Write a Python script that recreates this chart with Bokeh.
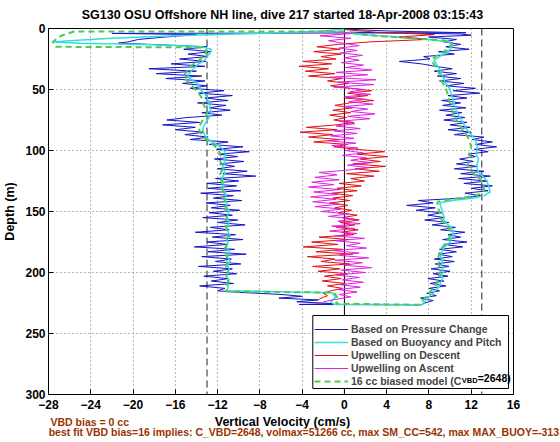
import math
from bokeh.plotting import figure
from bokeh.layouts import column
from bokeh.core.properties import value
from bokeh.models import (Range1d, FixedTicker, LinearAxis, Legend, LegendItem, ColumnDataSource)
from bokeh.embed import file_html
from bokeh.resources import INLINE

# ---------------- data (depth m, vertical velocity cm/s) ----------------
x_ticks = [-28, -24, -20, -16, -12, -8, -4, 0, 4, 8, 12, 16]
x_tick_labels = ["\u221228", "\u221224", "\u221220", "\u221216", "\u221212", "\u22128",
                 "\u22124", "0", "4", "8", "12", "16"]
y_ticks = [0, 50, 100, 150, 200, 250, 300]
speed_limits = [-13, 13]
zero_line = [0]

# Based on Pressure Change (blue) - descent then ascent
blue_desc = [(0.5, 0.0), (2, 4.0), (3.5, 11.5), (4, -22.0), (5, -14.0), (7, -17.0), (9, -19.5),
             (11, -20.5), (12, -21.4), (13.5, -17.0), (15, -13.0), (17, -15.2), (19, -12.6),
             (21, -14.8), (23, -12.9), (25, -15.6), (27, -13.1), (29, -16.4), (31, -13.2),
             (33, -18.5), (35, -14.0), (37, -17.8), (39, -13.5), (41, -16.9), (43, -13.2),
             (45, -15.3), (47, -13.0), (49, -14.6), (51, -11.4), (53, -13.8), (55, -10.6),
             (57, -13.2), (59, -11.0), (61, -13.9), (63, -11.2), (65, -12.8), (67, -10.8),
             (69, -13.5), (71, -11.6), (73, -14.9), (75, -16.8), (77, -13.7), (79, -17.2),
             (81, -14.1), (83, -16.0), (85, -13.3), (87, -15.1), (89, -12.9), (91, -14.6),
             (93, -11.0), (95, -12.8), (97, -9.6), (99, -12.1), (101, -9.0), (103, -11.9),
             (105, -10.1), (107, -12.3), (109, -9.5), (111, -11.8), (113, -10.4), (115, -12.0),
             (117, -9.2), (119, -11.5), (121, -8.4), (123, -12.2), (125, -10.0), (127, -13.0),
             (129, -10.2), (131, -12.9), (133, -9.8), (135, -13.6), (137, -10.5), (139, -12.4),
             (141, -9.7), (143, -13.1), (145, -10.8), (147, -12.6), (149, -9.9), (151, -12.8),
             (153, -10.6), (155, -13.4), (157, -10.1), (159, -12.0), (161, -9.4), (163, -12.7),
             (165, -10.9), (167, -14.1), (169, -10.3), (171, -12.5), (173, -9.6), (175, -13.0),
             (177, -11.1), (179, -14.2), (181, -10.4), (183, -12.9), (185, -9.3), (187, -13.5),
             (189, -10.7), (191, -12.2), (193, -9.8), (195, -13.8), (197, -10.6), (199, -12.4),
             (201, -10.2), (203, -13.3), (205, -11.0), (207, -12.6), (209, -10.5), (211, -13.7),
             (213, -11.3), (215, -12.0), (216, -10.5), (218, -6.0), (219.5, -4.0), (221, -6.2),
             (222.5, -2.5), (224, -4.5), (225.5, -1.0), (226.2, -4.3)]
blue_asc = [(226.5, 7.3), (225, 7.6), (223, 8.4), (221, 7.2), (219, 8.7), (217, 7.8), (215, 9.0),
            (213, 8.0), (211, 9.6), (209, 8.1), (207, 9.4), (205, 7.9), (203, 9.8), (201, 8.4),
            (199, 10.0), (197, 8.2), (195, 9.9), (193, 8.6), (191, 10.4), (189, 8.5), (187, 10.2),
            (185, 8.9), (183, 10.6), (181, 9.0), (179, 11.2), (177, 9.4), (175, 11.6), (173, 9.3),
            (171, 11.0), (169, 9.8), (167, 11.4), (165, 9.1), (163, 10.5), (161, 8.3), (159, 9.9),
            (157, 7.6), (155, 9.5), (153, 7.9), (151, 9.2), (149, 6.8), (147, 8.6), (145, 5.9),
            (143, 8.4), (141, 7.0), (139, 11.2), (137, 12.9), (135, 11.4), (133, 13.6), (131, 12.0),
            (129, 14.0), (127, 11.3), (125, 13.5), (123, 10.8), (121, 13.8), (119, 11.0), (117, 13.2),
            (115, 10.4), (113, 12.6), (111, 10.6), (109, 12.2), (107, 10.9), (105, 12.4), (103, 11.7),
            (101, 13.6), (99, 12.3), (97, 14.4), (95, 12.4), (93, 14.0), (91, 12.1), (89, 13.2),
            (87, 10.4), (85, 12.0), (83, 9.8), (81, 11.9), (79, 10.0), (77, 11.6), (75, 9.4),
            (73, 11.4), (71, 9.6), (69, 11.1), (67, 9.0), (65, 11.5), (63, 9.3), (61, 11.0),
            (59, 9.2), (57, 11.6), (55, 9.8), (53, 12.8), (51, 10.3), (49, 12.4), (47, 9.6),
            (45, 11.3), (43, 9.0), (41, 11.0), (39, 8.8), (37, 10.6), (35, 8.5), (33, 10.2),
            (31, 8.6), (29, 7.3), (27, 5.2), (25, 8.1), (23, 7.5), (21, 10.4), (19, 8.9), (17, 11.8),
            (15, 9.6), (13, 11.0), (11, 9.4), (9, 10.6), (7, 8.0), (5.5, 12.0), (4.5, 11.0), (3, 0.5)]

# Based on Buoyancy and Pitch (cyan)
cyan_desc = [(0.5, 0.0), (2, -2.0), (4, -8.0), (6, -16.0), (8, -22.0), (10, -26.0), (11, -27.5),
             (12, -25.0), (13, -20.0), (14, -16.0), (15, -13.5), (17, -12.6), (20, -12.7),
             (23, -13.0), (26, -13.2), (29, -13.8), (32, -14.2), (35, -14.5), (38, -14.8),
             (41, -14.6), (44, -14.1), (47, -13.7), (50, -13.6), (53, -13.3), (56, -13.0),
             (59, -12.9), (62, -12.8), (65, -12.7), (68, -12.6), (71, -12.6), (74, -12.9),
             (77, -13.1), (80, -13.3), (83, -13.4), (86, -13.3), (89, -13.1), (92, -12.7),
             (95, -12.1), (98, -11.6), (101, -11.3), (104, -11.2), (107, -11.4), (110, -11.3),
             (113, -11.5), (116, -11.4), (119, -11.3), (122, -11.6), (125, -11.5), (128, -11.4),
             (131, -11.6), (134, -11.3), (137, -11.2), (140, -11.3), (143, -11.1), (146, -11.2),
             (149, -10.9), (152, -11.0), (155, -11.1), (158, -10.9), (161, -11.0), (164, -11.2),
             (167, -11.0), (170, -10.8), (173, -11.1), (176, -11.0), (179, -11.2), (182, -10.9),
             (185, -11.1), (188, -11.0), (191, -10.8), (194, -11.1), (197, -10.9), (200, -11.0),
             (203, -11.2), (206, -10.9), (209, -11.1), (212, -11.0), (215, -11.1), (216.5, -1.2),
             (220, -0.8), (224, -1.3), (226, -1.0)]
cyan_asc = [(226.5, 7.3), (223, 7.7), (220, 8.0), (217, 8.4), (214, 8.7), (211, 9.0), (208, 9.1),
            (205, 9.3), (202, 9.2), (199, 9.4), (196, 9.3), (193, 9.2), (190, 9.3), (187, 9.1),
            (184, 9.2), (181, 9.3), (178, 9.6), (175, 10.0), (172, 10.1), (169, 10.3), (166, 10.3),
            (163, 10.1), (160, 9.7), (157, 9.4), (154, 9.4), (151, 9.3), (148, 9.2), (145, 9.1),
            (143, 9.0), (141, 10.2), (139, 12.3), (137, 13.2), (134, 13.8), (131, 13.7), (128, 13.6),
            (125, 13.5), (122, 13.2), (119, 12.8), (116, 12.6), (113, 12.5), (110, 12.6), (107, 12.7),
            (104, 12.5), (101, 12.5), (98, 12.6), (95, 12.5), (92, 12.4), (89, 12.2), (86, 11.9),
            (83, 11.6), (80, 11.4), (77, 11.2), (74, 11.0), (71, 10.8), (68, 10.6), (65, 10.5),
            (62, 10.4), (59, 10.3), (56, 10.2), (53, 10.1), (50, 10.0), (47, 9.8), (44, 9.5),
            (41, 9.4), (38, 9.2), (35, 9.1), (32, 8.9), (29, 8.7), (26, 8.5), (23, 9.0), (20, 9.6),
            (17, 10.0), (14, 10.3), (11, 9.8), (9, 8.0), (7, 5.0), (5, 1.5), (3, 0.3)]

# Upwelling on Descent (red)
red_desc = [(1, 0.2), (3, 3.0), (5, 8.5), (7, 5.2), (9, 7.8), (11, 2.4), (13, -0.6), (15, -2.6),
            (17, -0.4), (19, -2.9), (21, -0.3), (23, -2.2), (25, -0.8), (27, -3.9), (29, -1.2),
            (31, -4.3), (33, -1.5), (35, -3.7), (37, -0.9), (39, -3.4), (41, -0.2), (43, -1.6),
            (45, 0.4), (47, -1.3), (49, 0.6), (51, 2.6), (53, 0.3), (55, 2.2), (57, 0.1), (59, 2.8),
            (61, 0.5), (63, -0.9), (65, 0.8), (67, -1.1), (69, 0.6), (71, -1.4), (73, 0.2),
            (75, -1.0), (77, 0.9), (79, -0.8), (81, -3.6), (83, -0.7), (85, -4.2), (87, -1.1),
            (89, -3.4), (91, -0.4), (93, -2.9), (95, 0.3), (97, -1.0), (99, 1.1), (101, 3.8),
            (103, 1.2), (105, 4.1), (107, 1.5), (109, 3.4), (111, 0.8), (113, 3.9), (115, 1.0),
            (117, 3.3), (119, 0.2), (121, 2.8), (123, 0.6), (125, 1.9), (127, -0.5), (129, 1.6),
            (131, -0.7), (133, 1.2), (135, -1.2), (137, 0.8), (139, -1.1), (141, 0.5), (143, -1.4),
            (145, 0.3), (147, -0.9), (149, 0.7), (151, -0.6), (153, 1.2), (155, -0.2), (157, 1.4),
            (159, -0.4), (161, 1.0), (163, -0.8), (165, 1.3), (167, -0.3), (169, 0.9), (171, -2.4),
            (173, 0.4), (175, -3.1), (177, -0.6), (179, -3.9), (181, -0.2), (183, -2.7), (185, 0.8),
            (187, -3.5), (189, -0.9), (191, -2.2), (193, 0.5), (195, -3.0), (197, -0.4), (199, -2.5),
            (201, 0.3), (203, -1.9), (205, -0.3), (207, -2.1), (209, 0.1), (211, -1.6), (213, -0.2),
            (215, -1.3), (217, -2.0), (219, -1.6), (221, -2.2), (223, -2.6)]

# Upwelling on Ascent (magenta)
mag_asc = [(224, -2.0), (222, -0.8), (220, 0.6), (218, -0.5), (216, 1.2), (214, -0.6), (212, 1.5),
           (210, -0.4), (208, 1.8), (206, -0.2), (204, 1.4), (202, -0.8), (200, 2.0), (198, -0.3),
           (196, 2.6), (194, 0.0), (192, 1.7), (190, -0.9), (188, 2.3), (186, -0.5), (184, 1.4),
           (182, -1.1), (180, 2.1), (178, 0.2), (176, 1.5), (174, -0.8), (172, 1.9), (170, -0.9),
           (168, 1.2), (166, -1.4), (164, 1.0), (162, -1.2), (160, 1.5), (158, -0.6), (156, 0.9),
           (154, -1.5), (152, 0.4), (150, -2.2), (148, -0.3), (146, -2.8), (144, -0.5), (142, -3.0),
           (140, -0.8), (138, -3.2), (136, -0.6), (134, -2.9), (132, -0.4), (130, -3.4), (128, -1.0),
           (126, -3.1), (124, -0.5), (122, -2.8), (120, -0.7), (118, -2.4), (116, 0.4), (114, 2.3),
           (112, 0.3), (110, 2.6), (108, 0.6), (106, 2.1), (104, -0.2), (102, 1.8), (100, 0.1),
           (98, 1.3), (96, -1.2), (94, 1.1), (92, -1.6), (90, 0.9), (88, -1.3), (86, 1.2),
           (84, -1.0), (82, 1.5), (80, -0.8), (78, 1.0), (76, -0.5), (74, 2.4), (72, 0.3), (70, 2.9),
           (68, 0.6), (66, 2.2), (64, -0.1), (62, 2.7), (60, 0.4), (58, 2.0), (56, 0.0), (54, 2.5),
           (52, 0.5), (50, 1.9), (48, -1.0), (46, 2.8), (44, -0.6), (42, 3.0), (40, -1.4), (38, 2.2),
           (36, -0.8), (34, 2.6), (32, 0.1), (30, 1.8), (28, -0.3), (26, 1.4), (24, 0.0), (22, 1.7),
           (20, -0.4), (18, 1.2), (16, -0.5), (14, 1.4), (12, -0.2), (10, -1.5), (8, 0.6), (6, -2.3),
           (4, 0.8), (2, -1.8)]

# 16 cc biased model (green dashed)
green_desc = [(2.5, 0.0), (2.5, -25.6), (6, -26.8), (9, -27.3), (11, -27.6), (13, -27.5), (15, -27.3),
              (15.5, -13.7), (18, -13.0), (21, -13.2), (24, -13.5), (27, -13.9), (30, -14.4),
              (33, -14.8), (36, -15.0), (39, -15.2), (42, -15.0), (45, -14.6), (48, -14.3), (51, -14.0),
              (54, -13.7), (57, -13.5), (60, -13.4), (63, -13.3), (66, -13.1), (69, -13.0), (72, -13.1),
              (75, -13.4), (78, -13.6), (81, -13.8), (84, -13.7), (87, -13.5), (90, -13.2), (93, -12.8),
              (96, -12.3), (99, -12.0), (102, -11.8), (105, -11.7), (108, -11.8), (111, -11.6),
              (114, -11.7), (117, -11.6), (120, -11.8), (123, -11.7), (126, -11.6), (129, -11.7),
              (132, -11.5), (135, -11.4), (138, -11.5), (141, -11.3), (144, -11.4), (147, -11.2),
              (150, -11.3), (153, -11.2), (156, -11.1), (159, -11.3), (162, -11.2), (165, -11.1),
              (168, -11.2), (171, -11.0), (174, -11.2), (177, -11.1), (180, -11.3), (183, -11.1),
              (186, -11.2), (189, -11.0), (192, -11.1), (195, -11.2), (198, -11.0), (201, -11.1),
              (204, -11.2), (207, -11.0), (210, -11.1), (213, -11.2), (215.5, -11.2), (216.5, -1.0),
              (221, -0.6), (225.5, -0.8)]
green_asc = [(226.5, 7.0), (223, 7.4), (220, 7.7), (217, 8.0), (214, 8.3), (211, 8.6), (208, 8.8),
             (205, 8.9), (202, 9.0), (199, 9.1), (196, 9.0), (193, 8.9), (190, 9.0), (187, 8.9),
             (184, 9.0), (181, 9.1), (178, 9.4), (175, 9.7), (172, 9.9), (169, 10.0), (166, 10.0),
             (163, 9.8), (160, 9.5), (157, 9.2), (154, 9.1), (151, 9.0), (148, 8.9), (145, 8.8),
             (142, 8.8), (140, 10.0), (138, 11.8), (136, 12.7), (133, 13.2), (130, 13.2), (127, 13.1),
             (124, 12.9), (121, 12.5), (118, 12.1), (115, 11.8), (112, 11.7), (109, 11.8), (106, 11.9),
             (103, 11.8), (100, 11.9), (97, 12.0), (94, 11.9), (91, 11.8), (88, 11.6), (85, 11.3),
             (82, 11.1), (79, 10.9), (76, 10.7), (73, 10.5), (70, 10.3), (67, 10.2), (64, 10.1),
             (61, 10.0), (58, 9.9), (55, 9.8), (52, 9.7), (49, 9.6), (46, 9.4), (43, 9.2), (40, 9.1),
             (37, 9.0), (34, 8.8), (31, 8.6), (28, 8.4), (25, 8.3), (22, 8.8), (19, 9.4), (16, 9.9),
             (13, 10.2), (10, 9.6), (8, 6.5), (6, 3.0), (4, 0.8)]

title_text = "SG130 OSU Offshore NH line, dive 217 started 18-Apr-2008 03:15:43"
x_label = "Vertical Velocity (cm/s)"
y_label = "Depth (m)"
note1 = "VBD bias = 0 cc"
note2 = ("best fit VBD bias=16 implies: C_VBD=2648, volmax=51266 cc, "
         "max SM_CC=542, max MAX_BUOY=-313")
legend_labels = ["Based on Pressure Change", "Based on Buoyancy and Pitch",
                 "Upwelling on Descent", "Upwelling on Ascent", "16 cc biased model (C"]
legend_sub = "VBD"
legend_tail = "=2648)"

# ---------------- layout constants (pixels) ----------------
FONT = "Liberation Sans"
W = 560
TOP_H, MAIN_H, BOT_H = 22, 392, 28
FR_L, FR_R, FR_T, FR_B = 45, 47, 6, 20       # main plot borders
BOT_NOTE_H = 14                              # bottom strip: row holding the long note
NOTE_COLOR = "#993300"
XMIN, XMAX, YMAX = -28, 16, 300
FRAME_W = W - FR_L - FR_R
FRAME_H = MAIN_H - FR_T - FR_B
LEG_BOX = (311, 508, 315 - TOP_H, 388 - TOP_H)   # legend box in main-figure pixels


def px_to_x(px):
    return XMIN + (px - FR_L) * (XMAX - XMIN) / FRAME_W


def py_to_y(py):
    return (py - FR_T) * YMAX / FRAME_H


def strip(height, **kw):
    # frames of a column are aligned with the main plot, so x data == page pixels
    f = figure(width=W, height=height, x_range=Range1d(FR_L, W - FR_R), y_range=Range1d(0, 1),
               x_axis_type=None, y_axis_type=None, output_backend="svg", toolbar_location=None,
               min_border=0, **kw)
    f.outline_line_color = None
    f.background_fill_color = "white"
    f.border_fill_color = "white"
    return f


def put_text(fig, x, y, txt, size, color="black", align="left"):
    return fig.text(x=[x], y=[y], text=[txt], text_font=value(FONT), text_font_style="bold",
                    text_font_size=value(size), text_color=color, text_align=align,
                    text_baseline="middle")


# title strip
top = strip(TOP_H)
top.y_range = Range1d(0, TOP_H)
put_text(top, 280.5, 8, title_text, "12.5px", align="center")

# main plot
p = figure(width=W, height=MAIN_H, x_range=Range1d(XMIN, XMAX), y_range=Range1d(YMAX, 0),
           output_backend="svg", toolbar_location=None,
           min_border_left=FR_L, min_border_right=FR_R, min_border_top=FR_T, min_border_bottom=FR_B)
p.background_fill_color = "white"
p.border_fill_color = "white"
p.outline_line_color = "black"
p.outline_line_width = 1

for ax in (p.xaxis[0], p.yaxis[0]):
    ax.major_tick_in = 5
    ax.major_tick_out = 0
    ax.minor_tick_line_color = None
    ax.axis_line_color = "black"
    ax.major_tick_line_color = "black"
    ax.major_label_text_font = FONT
    ax.major_label_text_font_style = "bold"
    ax.major_label_text_font_size = "12px"
    ax.major_label_text_color = "black"

p.xaxis.ticker = FixedTicker(ticks=x_ticks)
p.xaxis.major_label_overrides = {t: s for t, s in zip(x_ticks, x_tick_labels)}
p.xaxis.major_label_standoff = 5

p.yaxis.ticker = FixedTicker(ticks=y_ticks)
p.yaxis.major_label_standoff = 3
p.yaxis.axis_label = y_label
p.yaxis.axis_label_text_font = FONT
p.yaxis.axis_label_text_font_style = "bold"
p.yaxis.axis_label_text_font_size = "12.5px"
p.yaxis.axis_label_text_color = "black"
p.yaxis.axis_label_standoff = 5

p.xgrid.ticker = FixedTicker(ticks=x_ticks)
p.ygrid.ticker = FixedTicker(ticks=y_ticks)
for g in (p.xgrid[0], p.ygrid[0]):
    g.grid_line_color = "#6e6e6e"
    g.grid_line_dash = "1 3"
    g.grid_line_width = 1

# reference lines (as glyphs, so the legend patch can cover them)
p.segment(x0=zero_line, y0=[0], x1=zero_line, y1=[YMAX], line_color="black", line_width=1)
p.segment(x0=speed_limits, y0=[0, 0], x1=speed_limits, y1=[YMAX, YMAX],
          line_color="#222222", line_width=1, line_dash="7 4")


def src(pairs):
    return ColumnDataSource(dict(depth=[d for d, _ in pairs], w=[v for _, v in pairs]))


r_blue = p.line("w", "depth", source=src(blue_desc + blue_asc), line_color="#1414c8", line_width=1)
r_cyan = p.line("w", "depth", source=src(cyan_desc + cyan_asc), line_color="#33dede", line_width=1.5)
r_red = p.line("w", "depth", source=src(red_desc), line_color="#e01010", line_width=1)
r_mag = p.line("w", "depth", source=src(mag_asc), line_color="#e020e0", line_width=1)
r_green = p.line("w", "depth", source=src(green_desc + green_asc), line_color="#4ccc4c",
                 line_width=2, line_dash="6 4")

# legend box: white patch with black border drawn under a transparent legend
lx0, lx1, ly0, ly1 = LEG_BOX
p.quad(left=[px_to_x(lx0)], right=[px_to_x(lx1)], top=[py_to_y(ly0)], bottom=[py_to_y(ly1)],
       fill_color="white", line_color="black", line_width=1)

legend = Legend(items=[LegendItem(label=lab, renderers=[r]) for lab, r in
                       zip(legend_labels, [r_blue, r_cyan, r_red, r_mag, r_green])],
                location=(lx0 - FR_L, (FR_T + FRAME_H) - ly1 + 1))
legend.label_text_font = FONT
legend.label_text_font_style = "bold"
legend.label_text_font_size = "10.5px"
legend.label_height = 12
legend.glyph_height = 12
legend.glyph_width = 34
legend.label_standoff = 3
legend.spacing = 1
legend.padding = 4
legend.margin = 0
legend.border_line_color = None
legend.background_fill_alpha = 0
p.add_layout(legend)

# subscript part of the last legend label (main-figure pixels -> data through the scale)
row5 = ly1 - 1 - 4 - 6
put_text(p, px_to_x(461), py_to_y(row5 + 3), legend_sub, "7.5px")
put_text(p, px_to_x(477), py_to_y(row5), legend_tail, "10.5px")

# bottom strip: x label and first note in the frame, long note as an axis label row
bot = strip(BOT_H, min_border_bottom=BOT_NOTE_H)
put_text(bot, 280.5, 0.5, x_label, "12.5px", align="center")
put_text(bot, 47, 0.45, note1, "10.5px", color=NOTE_COLOR)
note_axis = LinearAxis(ticker=FixedTicker(ticks=[302]), major_label_overrides={302: note2},
                       major_label_text_font=FONT, major_label_text_font_style="bold",
                       major_label_text_font_size="10.5px", major_label_text_color=NOTE_COLOR,
                       major_tick_line_color=None, minor_tick_line_color=None,
                       major_tick_in=0, major_tick_out=0,
                       axis_line_color=None, major_label_standoff=-3)
bot.add_layout(note_axis, "below")

layout = column(top, p, bot, spacing=0)
open("out.html", "w").write(file_html(layout, INLINE))
